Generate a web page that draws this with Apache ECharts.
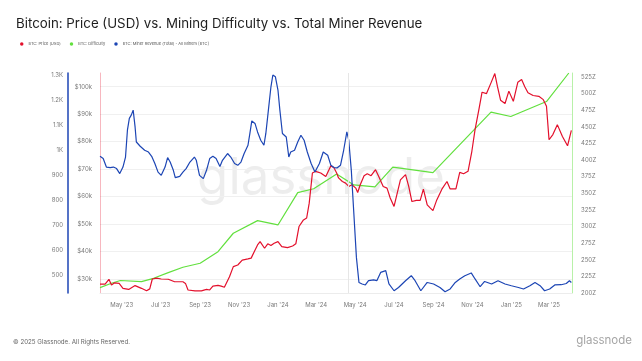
<!DOCTYPE html>
<html><head><meta charset="utf-8">
<script src="https://cdn.jsdelivr.net/npm/echarts@6/dist/echarts.min.js"></script>
<style>html,body{margin:0;padding:0;background:#fff}#c{width:642px;height:361px}</style>
</head><body><div id="c"></div>
<script>
const priceDates = ['2023-03-28','2023-04-05','2023-04-11','2023-04-15','2023-04-20','2023-04-27','2023-05-03','2023-05-12','2023-05-22','2023-06-01','2023-06-09','2023-06-14','2023-06-18','2023-06-25','2023-07-02','2023-07-13','2023-07-23','2023-08-05','2023-08-09','2023-08-13','2023-08-24','2023-09-03','2023-09-11','2023-09-16','2023-09-21','2023-09-29','2023-10-04','2023-10-09','2023-10-17','2023-10-23','2023-10-30','2023-11-06','2023-11-15','2023-11-20','2023-11-25','2023-11-30','2023-12-04','2023-12-11','2023-12-16','2023-12-21','2023-12-26','2024-01-01','2024-01-07','2024-01-16','2024-01-24','2024-01-29','2024-02-03','2024-02-10','2024-02-15','2024-02-19','2024-02-24','2024-02-29','2024-03-08','2024-03-16','2024-03-24','2024-03-29','2024-04-02','2024-04-05','2024-04-11','2024-04-16','2024-04-21','2024-04-26','2024-05-02','2024-05-05','2024-05-09','2024-05-15','2024-05-20','2024-05-26','2024-06-02','2024-06-07','2024-06-14','2024-06-20','2024-06-25','2024-07-01','2024-07-06','2024-07-11','2024-07-19','2024-07-24','2024-07-29','2024-08-05','2024-08-11','2024-08-16','2024-08-22','2024-08-27','2024-08-31','2024-09-06','2024-09-14','2024-09-22','2024-09-27','2024-10-06','2024-10-12','2024-10-18','2024-10-25','2024-10-31','2024-11-05','2024-11-11','2024-11-16','2024-11-23','2024-11-30','2024-12-06','2024-12-10','2024-12-15','2024-12-22','2024-12-28','2025-01-04','2025-01-11','2025-01-17','2025-01-22','2025-01-27','2025-02-04','2025-02-13','2025-02-20','2025-02-25','2025-03-01','2025-03-07','2025-03-14','2025-03-22','2025-03-30','2025-04-05'];
const priceValues = [28100,28100,29900,27800,28600,28400,26600,26200,27600,26600,25700,26400,30000,30300,30000,29900,29000,29000,28400,26000,25700,25700,26200,26000,27400,27700,27400,27000,30800,34500,35100,36900,37300,37600,40000,42400,43600,41200,42800,42200,43000,43600,41800,41400,42000,42800,49100,51500,52200,57600,68600,69200,68600,67300,71200,70400,68600,66800,65500,64900,63700,64300,63100,61500,64300,67600,68300,67600,69800,67300,63700,63100,59500,56400,61300,66100,68000,63700,58200,58600,58600,62700,57000,55800,54900,58800,62700,65500,62800,62800,68800,68300,69200,76500,84400,91700,98000,97500,101400,104800,100200,95100,93900,98400,94700,101600,102600,100000,97800,96800,96500,95300,92900,80700,82600,86200,81900,78500,84100];

const difficultyDates = ['2023-03-28','2023-04-15','2023-04-29','2023-06-01','2023-06-20','2023-07-13','2023-08-05','2023-09-01','2023-09-29','2023-10-23','2023-11-30','2024-01-01','2024-02-01','2024-02-26','2024-04-02','2024-04-29','2024-06-01','2024-06-29','2024-08-31','2024-11-30','2024-12-31','2025-02-25','2025-04-01'];
const difficultyValues = [208,214.6,218.8,217,222.1,230.6,238.7,244.7,262.2,289.9,308.9,302.4,351.1,356.9,379.2,362.6,359.6,389.3,381.2,472.1,465.5,488.1,531];

const revenueDates = ['2023-03-28','2023-04-02','2023-04-07','2023-04-13','2023-04-18','2023-04-23','2023-04-28','2023-05-03','2023-05-07','2023-05-10','2023-05-13','2023-05-16','2023-05-19','2023-05-22','2023-05-24','2023-05-30','2023-06-06','2023-06-12','2023-06-17','2023-06-22','2023-06-27','2023-07-02','2023-07-08','2023-07-12','2023-07-16','2023-07-21','2023-07-24','2023-07-31','2023-08-05','2023-08-10','2023-08-16','2023-08-23','2023-08-26','2023-08-31','2023-09-06','2023-09-11','2023-09-16','2023-09-21','2023-09-26','2023-10-02','2023-10-06','2023-10-14','2023-10-19','2023-10-25','2023-10-30','2023-11-04','2023-11-09','2023-11-15','2023-11-18','2023-11-21','2023-11-26','2023-11-30','2023-12-05','2023-12-10','2023-12-13','2023-12-17','2023-12-21','2023-12-24','2023-12-28','2024-01-01','2024-01-04','2024-01-08','2024-01-14','2024-01-18','2024-01-21','2024-01-27','2024-02-01','2024-02-06','2024-02-11','2024-02-16','2024-02-22','2024-02-28','2024-03-06','2024-03-12','2024-03-19','2024-03-24','2024-03-29','2024-04-03','2024-04-08','2024-04-13','2024-04-18','2024-04-21','2024-04-25','2024-04-29','2024-05-03','2024-05-07','2024-05-12','2024-05-17','2024-05-22','2024-05-30','2024-06-04','2024-06-10','2024-06-18','2024-06-23','2024-07-01','2024-07-08','2024-07-19','2024-07-28','2024-08-03','2024-08-12','2024-08-22','2024-09-01','2024-09-11','2024-09-19','2024-09-27','2024-10-05','2024-10-12','2024-10-20','2024-10-30','2024-11-05','2024-11-13','2024-11-20','2024-12-01','2024-12-11','2024-12-22','2025-01-01','2025-01-12','2025-01-20','2025-01-30','2025-02-07','2025-02-15','2025-02-22','2025-03-02','2025-03-10','2025-03-20','2025-03-28','2025-04-02','2025-04-05'];
const revenueValues = [976,967,933,931,933,927,907,933,973,1080,1127,1140,1160,1093,1033,1016,1000,993,976,947,913,900,933,971,953,920,891,896,913,927,953,973,960,900,887,920,967,976,967,935,960,987,973,947,940,953,987,1020,1067,1117,1107,1073,1040,1020,1067,1160,1253,1300,1293,1240,1160,1067,1053,973,993,1000,1033,1060,1040,993,947,913,947,993,980,940,931,930,940,1000,1073,1040,920,747,573,473,467,463,480,483,480,513,520,467,440,453,480,500,480,440,473,467,453,436,447,473,487,500,511,487,456,477,467,480,467,460,453,447,460,473,460,440,447,463,464,469,480,473];

const xTickDates = ['2023-05-01','2023-07-01','2023-09-01','2023-11-01','2024-01-01','2024-03-01','2024-05-01','2024-07-01','2024-09-01','2024-11-01','2025-01-01','2025-03-01'];
const priceTicks = [30000,40000,50000,60000,70000,80000,90000,100000];
const revenueTicks = [500,600,700,800,900,1000,1100,1200,1300];
const difficultyTicks = [200,225,250,275,300,325,350,375,400,425,450,475,500,525];
const halvingDate = '2024-04-20';
const monthNames = ['Jan','Feb','Mar','Apr','May','Jun','Jul','Aug','Sep','Oct','Nov','Dec'];

function ts(s){ const p = s.split('-'); return new Date(+p[0], +p[1]-1, +p[2]).getTime(); }
function zip(d, v){ const n = Math.min(d.length, v.length); const out = []; for (let i = 0; i < n; i++) out.push([ts(d[i]), v[i]]); return out; }

const RED = '#e3102c', GREEN = '#62e03e', BLUE = '#1c45b4';
const labelStyle = { color: '#7a7a7a', fontSize: 6, fontFamily: 'Inter' };

const chart = echarts.init(document.getElementById('c'));
chart.setOption({
  animation: false,
  backgroundColor: '#fff',
  textStyle: { fontFamily: 'Inter' },
  title: {
    text: 'Bitcoin: Price (USD) vs. Mining Difficulty vs. Total Miner Revenue',
    left: 11, top: 12,
    textStyle: { fontSize: 13.3, fontWeight: 'normal', color: '#1e1e1e', fontFamily: 'Inter' }
  },
  legend: {
    left: 15, top: 37,
    icon: 'circle', itemWidth: 3.5, itemHeight: 3.5, itemGap: 9,
    textStyle: { fontSize: 4, color: '#555', fontFamily: 'Inter' },
    data: ['BTC: Price (USD)', 'BTC: Difficulty', 'BTC: Miner Revenue (Total) - All Miners [BTC]']
  },
  grid: { left: 100, right: 70, top: 73, bottom: 68, containLabel: false },
  xAxis: {
    type: 'value',
    min: ts('2023-03-28'), max: ts('2025-04-06'),
    axisLine: { show: true, lineStyle: { color: '#ececec' } },
    axisTick: { show: false, customValues: xTickDates.map(ts) },
    splitLine: { show: false },
    axisLabel: Object.assign({}, labelStyle, {
      customValues: xTickDates.map(ts), margin: 9,
      formatter: function (v) { const d = new Date(v); return monthNames[d.getMonth()] + " '" + String(d.getFullYear()).slice(2); }
    })
  },
  yAxis: [
    {
      type: 'value', position: 'left', min: 24900, max: 105000,
      axisLine: { show: true, lineStyle: { color: 'rgba(227,16,44,0.3)' } },
      axisTick: { show: false, customValues: priceTicks },
      splitLine: { show: true, lineStyle: { color: '#f0f0f0' } },
      axisLabel: Object.assign({}, labelStyle, { customValues: priceTicks, margin: 8, formatter: function (v) { return '$' + (v / 1000) + 'k'; } })
    },
    {
      type: 'value', position: 'left', offset: 32, min: 431, max: 1308,
      axisLine: { show: true, lineStyle: { color: BLUE, width: 1.5 } },
      axisTick: { show: false, customValues: revenueTicks },
      splitLine: { show: false },
      axisLabel: Object.assign({}, labelStyle, { customValues: revenueTicks, margin: 5, formatter: function (v) { return v >= 1000 ? (v / 1000) + 'K' : String(v); } })
    },
    {
      type: 'value', position: 'right', min: 200, max: 531,
      axisLine: { show: true, lineStyle: { color: 'rgba(98,224,62,0.45)' } },
      axisTick: { show: false, customValues: difficultyTicks },
      splitLine: { show: false },
      axisLabel: Object.assign({}, labelStyle, { customValues: difficultyTicks, margin: 9, formatter: function (v) { return v + 'Z'; } })
    }
  ],
  graphic: [
    { type: 'text', left: 'center', top: 153, z: -10, silent: true,
      style: { text: 'glassnode', fontSize: 51, fontFamily: 'Inter', fill: 'rgba(0,0,0,0.07)' } },
    { type: 'text', left: 13, top: 339, style: { text: '© 2025 Glassnode. All Rights Reserved.', fontSize: 6.2, fontFamily: 'Inter', fill: '#666' } },
    { type: 'text', right: 10, top: 335, style: { text: 'glassnode', fontSize: 11.5, fontFamily: 'Inter', fill: '#a5a5a5' } }
  ],
  series: [
    { name: 'BTC: Price (USD)', type: 'line', yAxisIndex: 0, showSymbol: false, data: zip(priceDates, priceValues),
      lineStyle: { color: RED, width: 1.2 }, itemStyle: { color: RED }, z: 3,
      markLine: { silent: true, symbol: 'none', label: { show: false }, lineStyle: { color: '#e6e6e6', type: 'solid', width: 1 },
        data: [{ xAxis: ts(halvingDate) }] } },
    { name: 'BTC: Difficulty', type: 'line', yAxisIndex: 2, showSymbol: false, data: zip(difficultyDates, difficultyValues),
      lineStyle: { color: GREEN, width: 1.2 }, itemStyle: { color: GREEN }, z: 2 },
    { name: 'BTC: Miner Revenue (Total) - All Miners [BTC]', type: 'line', yAxisIndex: 1, showSymbol: false, data: zip(revenueDates, revenueValues),
      lineStyle: { color: BLUE, width: 1.2 }, itemStyle: { color: BLUE }, z: 4 }
  ]
});
</script></body></html>
